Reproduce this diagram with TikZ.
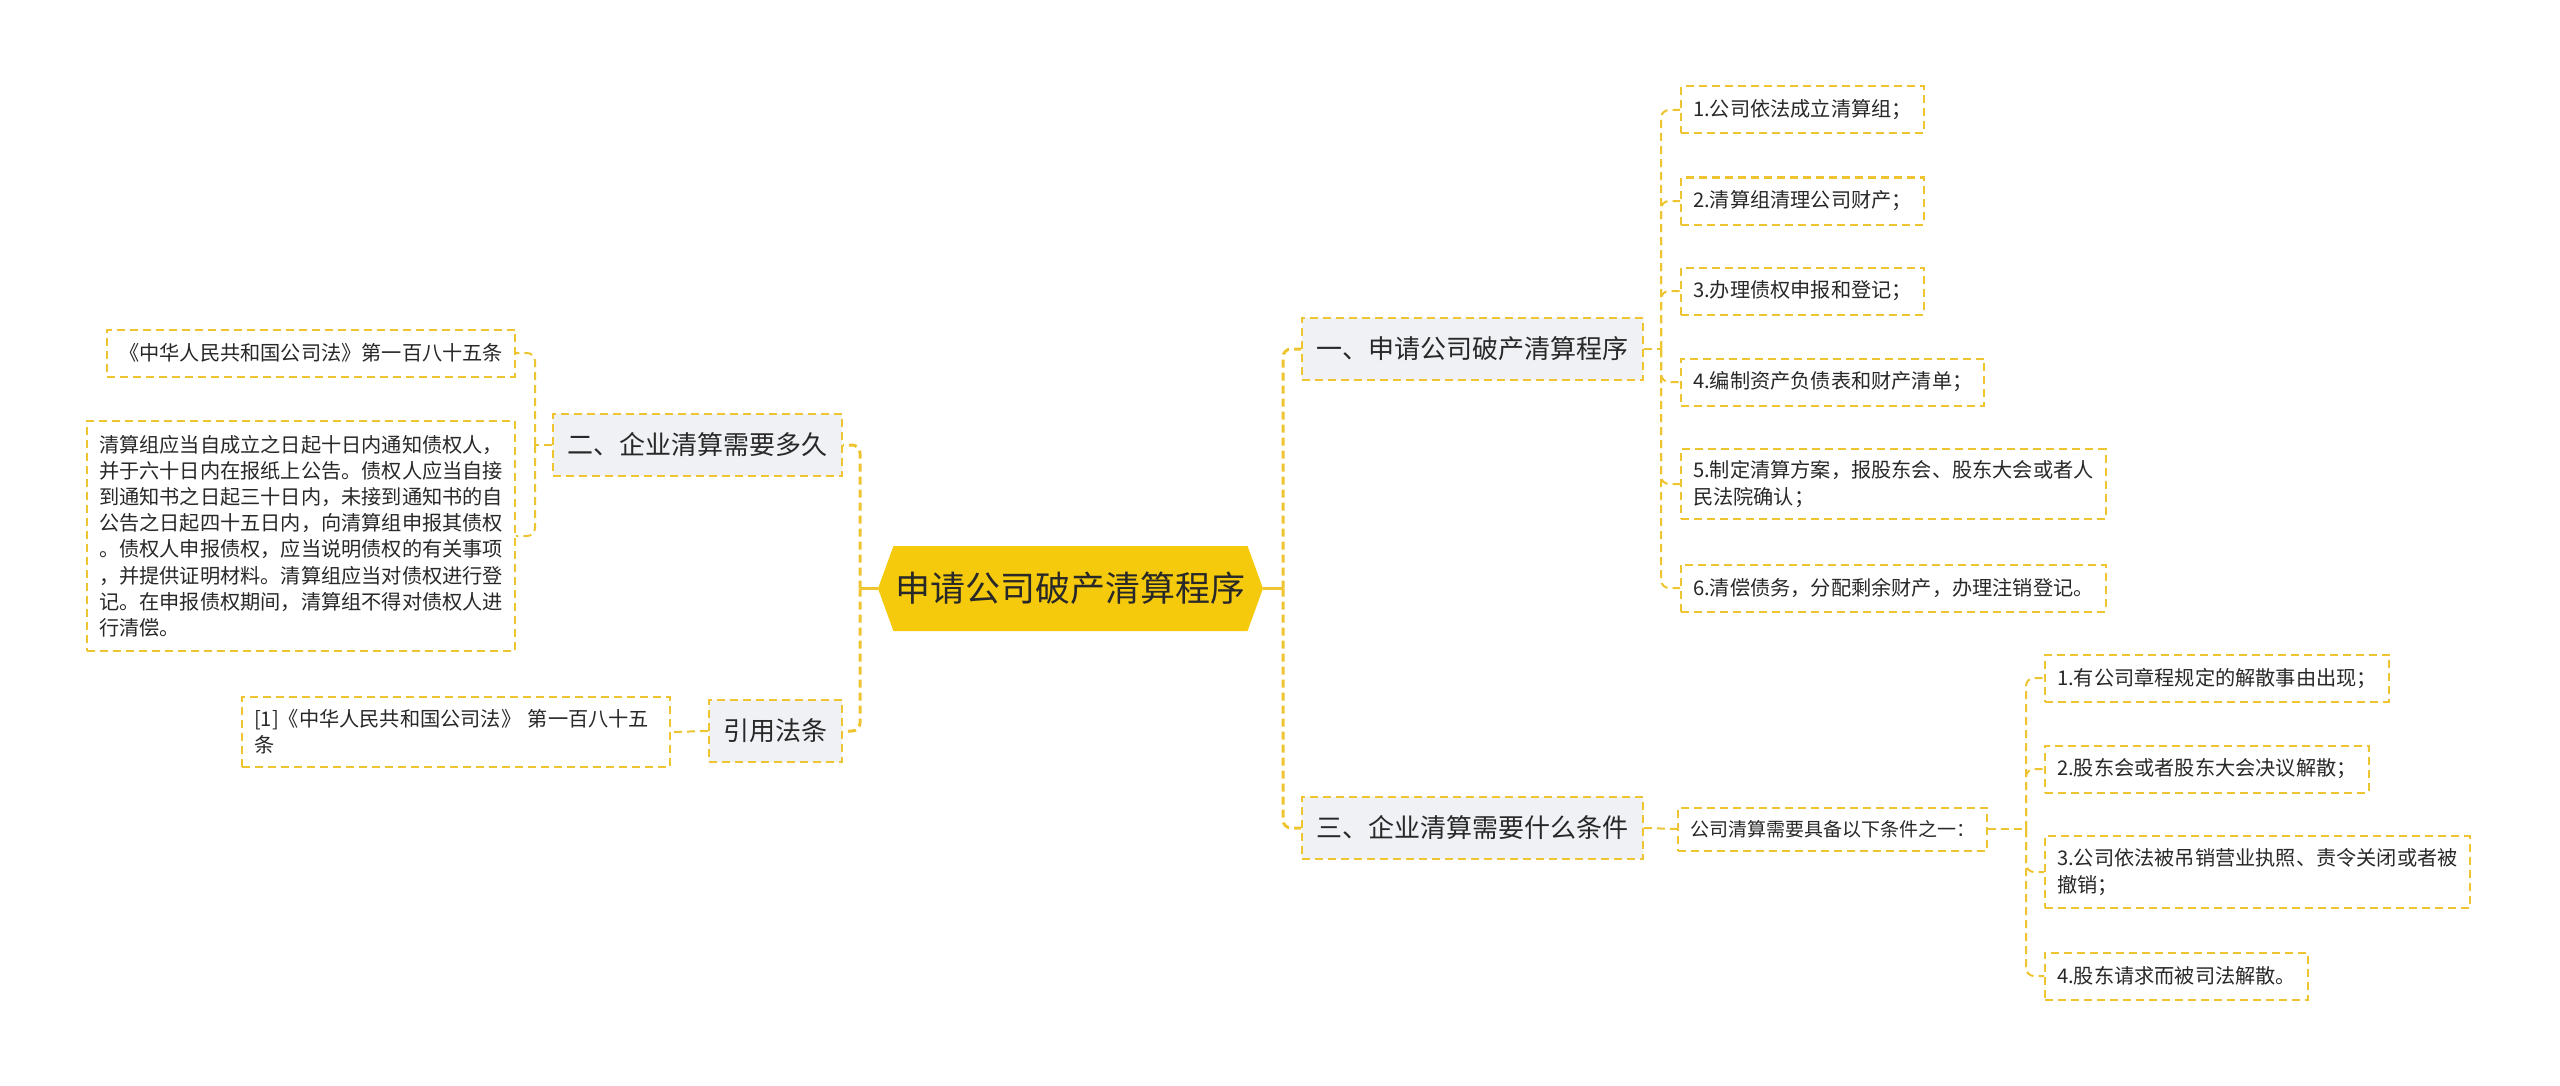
\documentclass[tikz,border=0pt]{standalone}
\usepackage{fontspec}
\setmainfont{Noto Sans CJK SC}
\usepackage{xcolor}
\usepackage{tikz}
\usetikzlibrary{shapes.symbols}
\definecolor{RootGold}{RGB}{246, 202, 12}
\definecolor{LineGold}{RGB}{238, 196, 48}
\definecolor{TopicGray}{RGB}{239, 241, 244}
\definecolor{InkDark}{RGB}{40, 40, 40}

\tikzset{
  rootnode/.style={signal, signal to=west and east, signal pointer angle=140,
    fill=RootGold, draw=none, minimum width=192.5pt, minimum height=42.5pt,
    inner sep=0pt, font=\fontsize{17.5}{20}\selectfont, text=InkDark},
  topic/.style={draw=LineGold, dash pattern=on 4pt off 2.5pt, line width=1.1pt,
    fill=TopicGray, minimum height=31pt, inner xsep=7.2pt, inner ysep=0pt,
    font=\fontsize{13}{16}\selectfont, text=InkDark},
  leaf/.style={draw=LineGold, dash pattern=on 4pt off 2.5pt, line width=1pt,
    fill=white, minimum height=23.5pt, inner xsep=6pt, inner ysep=0pt, align=left,
    font=\fontsize{10.1}{13.1}\selectfont, text=InkDark},
  link/.style={draw=LineGold, dash pattern=on 4pt off 2.5pt, line width=1pt, rounded corners=4pt},
  mainlink/.style={link, line width=1.5pt},
  stublink/.style={draw=LineGold, line width=1.5pt}
}

\begin{document}
\begin{tikzpicture}[x=0.5pt, y=-0.5pt]
  \useasboundingbox (0,0) rectangle (2560,1086);

  % centre
  \node[rootnode] (root) at (1070.5,588.5) {申请公司破产清算程序};
  \coordinate (rootL) at (860,588.5);
  \coordinate (rootR) at (1283,588.5);

  % left side
  \node[topic, anchor=east] (howlong) at (843,445) {二、企业清算需要多久};
  \node[topic, anchor=east] (lawref) at (843,731) {引用法条};
  \coordinate (howlongL) at (535,445);
  \node[leaf, anchor=east] (art) at (516,353) {《中华人民共和国公司法》第一百八十五条};
  \node[leaf, anchor=east, minimum height=115pt] (claims) at (516,536)
    {清算组应当自成立之日起十日内通知债权人，\\
     并于六十日内在报纸上公告。债权人应当自接\\
     到通知书之日起三十日内，未接到通知书的自\\
     公告之日起四十五日内，向清算组申报其债权\\
     。债权人申报债权，应当说明债权的有关事项\\
     ，并提供证明材料。清算组应当对债权进行登\\
     记。在申报债权期间，清算组不得对债权人进\\
     行清偿。};
  \node[leaf, anchor=east, minimum height=35pt, text width=202pt] (cite) at (671,732)
    {[1]《中华人民共和国公司法》 第一百八十五\\条};

  % right side
  \node[topic, anchor=west] (steps) at (1301,349) {一、申请公司破产清算程序};
  \node[topic, anchor=west] (terms) at (1301,828) {三、企业清算需要什么条件};
  \coordinate (stepsR) at (1661,349);
  \node[leaf, anchor=west] (s1) at (1680,110) {1.公司依法成立清算组；};
  \node[leaf, anchor=west] (s2) at (1680,201) {2.清算组清理公司财产；};
  \node[leaf, anchor=west] (s3) at (1680,291) {3.办理债权申报和登记；};
  \node[leaf, anchor=west] (s4) at (1680,382) {4.编制资产负债表和财产清单；};
  \node[leaf, anchor=west, minimum height=35pt] (s5) at (1680,484)
    {5.制定清算方案，报股东会、股东大会或者人\\民法院确认；};
  \node[leaf, anchor=west] (s6) at (1680,588) {6.清偿债务，分配剩余财产，办理注销登记。};
  \node[leaf, anchor=west, minimum height=21.5pt, font=\fontsize{9.5}{12}\selectfont]
    (anyof) at (1677,829) {公司清算需要具备以下条件之一：};
  \coordinate (anyofR) at (2026,829);
  \node[leaf, anchor=west] (t1) at (2044,678) {1.有公司章程规定的解散事由出现；};
  \node[leaf, anchor=west] (t2) at (2044,769) {2.股东会或者股东大会决议解散；};
  \node[leaf, anchor=west, minimum height=36pt] (t3) at (2044,872)
    {3.公司依法被吊销营业执照、责令关闭或者被\\撤销；};
  \node[leaf, anchor=west] (t4) at (2044,976) {4.股东请求而被司法解散。};

  % connectors
  \draw[stublink] (root.west) -- (rootL);
  \draw[stublink] (root.east) -- (rootR);
  \foreach \n in {howlong,lawref} \draw[mainlink] (rootL) |- (\n.east);
  \foreach \n in {steps,terms} \draw[mainlink] (rootR) |- (\n.west);
  \draw[link] (howlong.west) -- (howlongL);
  \foreach \n in {art,claims} \draw[link] (howlongL) |- (\n.east);
  \draw[link] (lawref.west) -- (cite.east);
  \draw[link] (steps.east) -- (stepsR);
  \foreach \k in {1,...,6} \draw[link] (stepsR) |- (s\k.west);
  \draw[link] (terms.east) -- (anyof.west);
  \draw[link] (anyof.east) -- (anyofR);
  \foreach \k in {1,...,4} \draw[link] (anyofR) |- (t\k.west);
\end{tikzpicture}
\end{document}
